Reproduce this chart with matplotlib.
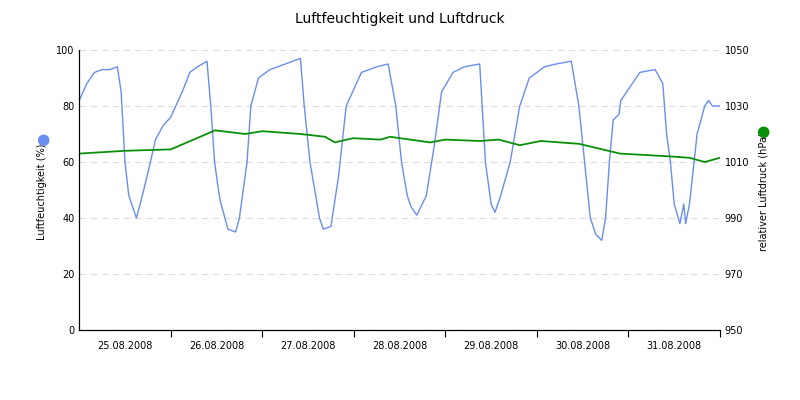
import matplotlib.pyplot as plt

dayLabels = ['25.08.2008', '26.08.2008', '27.08.2008', '28.08.2008',
             '29.08.2008', '30.08.2008', '31.08.2008']

# humidity keypoints: (hour since 25.08 00:00, percent)
humHours = [0, 2, 4, 6, 8, 10, 11, 12, 13, 14, 15, 16, 18, 20, 22,
            24, 27, 29, 31, 33.5, 34.5, 35.5, 36.5, 37, 39, 41, 42, 44, 45, 47,
            50, 54, 58, 59, 60.5, 62, 63, 64, 66, 68, 70,
            74, 78, 81, 83, 84.5, 86, 87, 88.5, 91, 93, 95,
            98, 101, 105, 106.5, 108, 109, 110.5, 113, 115.5, 118,
            122, 125, 129, 131, 132.5, 134, 135.5, 137, 138, 139, 140, 141.5, 142,
            147, 151, 153, 154, 155, 156, 157.5, 158.5, 159, 160, 162, 164, 165, 166, 168]
humidity = [82, 88, 92, 93, 93, 94, 85, 60, 48, 44, 40, 45, 56, 68, 73,
            76, 85, 92, 94, 96, 80, 60, 50, 46, 36, 35, 40, 60, 80, 90,
            93, 95, 97, 80, 60, 48, 40, 36, 37, 55, 80,
            92, 94, 95, 80, 60, 48, 44, 41, 48, 65, 85,
            92, 94, 95, 60, 45, 42, 48, 60, 80, 90,
            94, 95, 96, 80, 60, 40, 34, 32, 40, 60, 75, 77, 82,
            92, 93, 88, 70, 60, 45, 38, 45, 38, 45, 70, 80, 82, 80, 80]

# air pressure keypoints (hPa)
presHours = [0, 12, 24, 30, 35.6, 43.5, 48, 58, 64.5, 67, 71.8, 79, 81.5, 92, 96,
             105, 110, 115.5, 121, 131, 141.8, 154.9, 160, 164, 168]
pressure = [1013, 1014, 1014.5, 1018, 1021.3, 1020, 1021, 1020, 1019, 1017, 1018.5, 1018, 1019, 1017, 1018,
            1017.5, 1018, 1016, 1017.5, 1016.5, 1013, 1012, 1011.5, 1010, 1011.5]

fig = plt.figure(figsize=(8, 4), dpi=100)
ax = fig.add_axes([0.099, 0.175, 0.801, 0.7])
ax2 = ax.twinx()

ax.plot(humHours, humidity, color='#6a8ef0', lw=1)
ax2.plot(presHours, pressure, color='#0a8f0a', lw=1.3)

ax.set_xlim(0, 168)
ax.set_ylim(0, 100)
ax2.set_ylim(950, 1050)
ax.set_yticks(range(0, 101, 20))
ax2.set_yticks(range(950, 1051, 20))
ax.grid(axis='y', color='#dddddd', ls=(0, (6, 4)), lw=0.8)
ax.set_axisbelow(True)

ax.set_xticks(range(24, 169, 24))
ax.set_xticklabels([])
ax.set_xticks(range(12, 168, 24), minor=True)
ax.set_xticklabels(dayLabels, minor=True)
ax.tick_params(axis='x', which='minor', length=0, labelsize=7, pad=8)
ax.tick_params(axis='x', which='major', length=5)
ax.tick_params(axis='y', length=0, labelsize=7)
ax2.tick_params(axis='y', length=0, labelsize=7)

for a in (ax, ax2):
    a.spines['top'].set_visible(False)
    a.spines['right'].set_visible(False)

fig.text(0.052, 0.52, 'Luftfeuchtigkeit (%)', fontsize=7, rotation=90, ha='center', va='center')
fig.text(0.955, 0.52, 'relativer Luftdruck (hPa)', fontsize=7, rotation=90, ha='center', va='center')
fig.text(0.053, 0.65, '\u25cf', color='#6a8ef0', fontsize=11, ha='center', va='center')
fig.text(0.953, 0.67, '\u25cf', color='#0a8f0a', fontsize=11, ha='center', va='center')

fig.suptitle('Luftfeuchtigkeit und Luftdruck', y=0.97, fontsize=10)
fig.savefig('out.png', dpi=100)
